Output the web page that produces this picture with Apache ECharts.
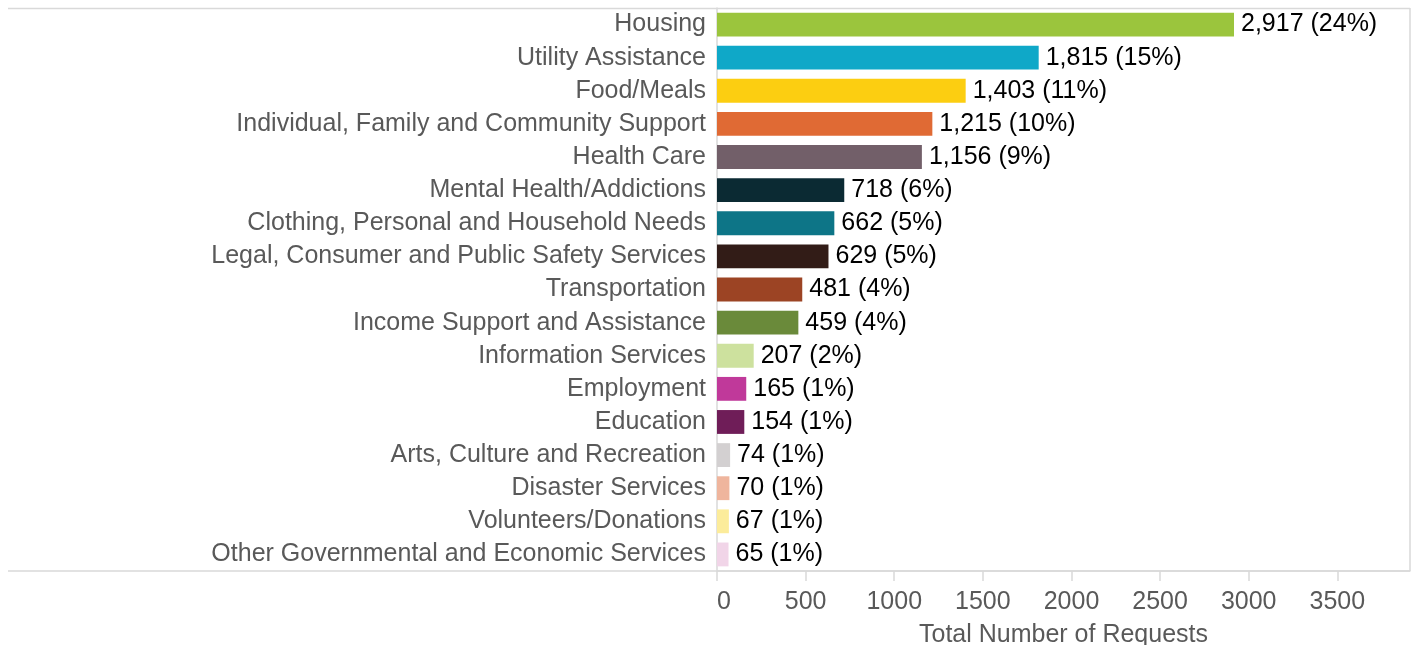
<!DOCTYPE html>
<html>
<head>
<meta charset="utf-8">
<script src="https://cdn.jsdelivr.net/npm/echarts@6/dist/echarts.min.js"></script>
<style>html,body{margin:0;padding:0;background:#fff}#c{width:1413px;height:645px}</style>
</head>
<body>
<div id="c"></div>
<script>
const categories = ["Housing","Utility Assistance","Food/Meals","Individual, Family and Community Support","Health Care","Mental Health/Addictions","Clothing, Personal and Household Needs","Legal, Consumer and Public Safety Services","Transportation","Income Support and Assistance","Information Services","Employment","Education","Arts, Culture and Recreation","Disaster Services","Volunteers/Donations","Other Governmental and Economic Services"];
const requests = [2917,1815,1403,1215,1156,718,662,629,481,459,207,165,154,74,70,67,65];
const percents = [24,15,11,10,9,6,5,5,4,4,2,1,1,1,1,1,1];
const colors = ["#9bc53d","#0fa8c8","#fcce11","#e06a34","#725f69","#0b2a33","#0d7587","#321c17","#9c4424","#6a8a3a","#cde19e","#c0399a","#6f1d58","#d3d0d1","#efb59d","#fcec9b","#f1d5e8"];
const xTicks = [0,500,1000,1500,2000,2500,3000,3500];

const FONT = "'Liberation Sans', Arial, sans-serif";
const chart = echarts.init(document.getElementById('c'));
const lineStyle = {stroke:'#d9d9d9', lineWidth:1.5};
chart.setOption({
  animation:false,
  textStyle:{fontFamily:FONT},
  grid:{left:717, right:3, top:8, bottom:74, containLabel:false, outerBoundsMode:'none'},
  xAxis:{
    type:'value', min:0, max:3910, interval:500,
    name:'Total Number of Requests', nameLocation:'middle', nameGap:52,
    nameTextStyle:{fontSize:25, color:'#595959', fontFamily:FONT},
    axisLine:{show:true, lineStyle:{color:'#d9d9d9', width:1.5}},
    axisTick:{show:true, length:10, lineStyle:{color:'#d9d9d9', width:1.5}},
    splitLine:{show:false},
    axisLabel:{fontSize:25, color:'#595959', margin:19, showMaxLabel:false, alignMinLabel:'left', fontFamily:FONT,
      formatter:v => xTicks.includes(v) ? String(v) : ''}
  },
  yAxis:{
    type:'category', data:categories, inverse:true,
    axisLine:{show:true, lineStyle:{color:'#d9d9d9', width:1.5}},
    axisTick:{show:false},
    axisLabel:{fontSize:25, color:'#595959', margin:11, fontFamily:FONT}
  },
  series:[{
    type:'bar',
    data:requests.map((v,i)=>({value:v, itemStyle:{color:colors[i]}})),
    barCategoryGap:'28%',
    label:{show:true, position:'right', distance:7, fontSize:25, color:'#000', fontFamily:FONT,
      formatter:p => p.value.toLocaleString('en-US') + ' (' + percents[p.dataIndex] + '%)'}
  }],
  graphic:[
    {type:'line', shape:{x1:8,y1:8.5,x2:1410,y2:8.5}, style:lineStyle, silent:true},
    {type:'line', shape:{x1:8,y1:571,x2:1410,y2:571}, style:lineStyle, silent:true},
    {type:'line', shape:{x1:1410,y1:8,x2:1410,y2:571}, style:lineStyle, silent:true}
  ]
});
</script>
</body>
</html>
